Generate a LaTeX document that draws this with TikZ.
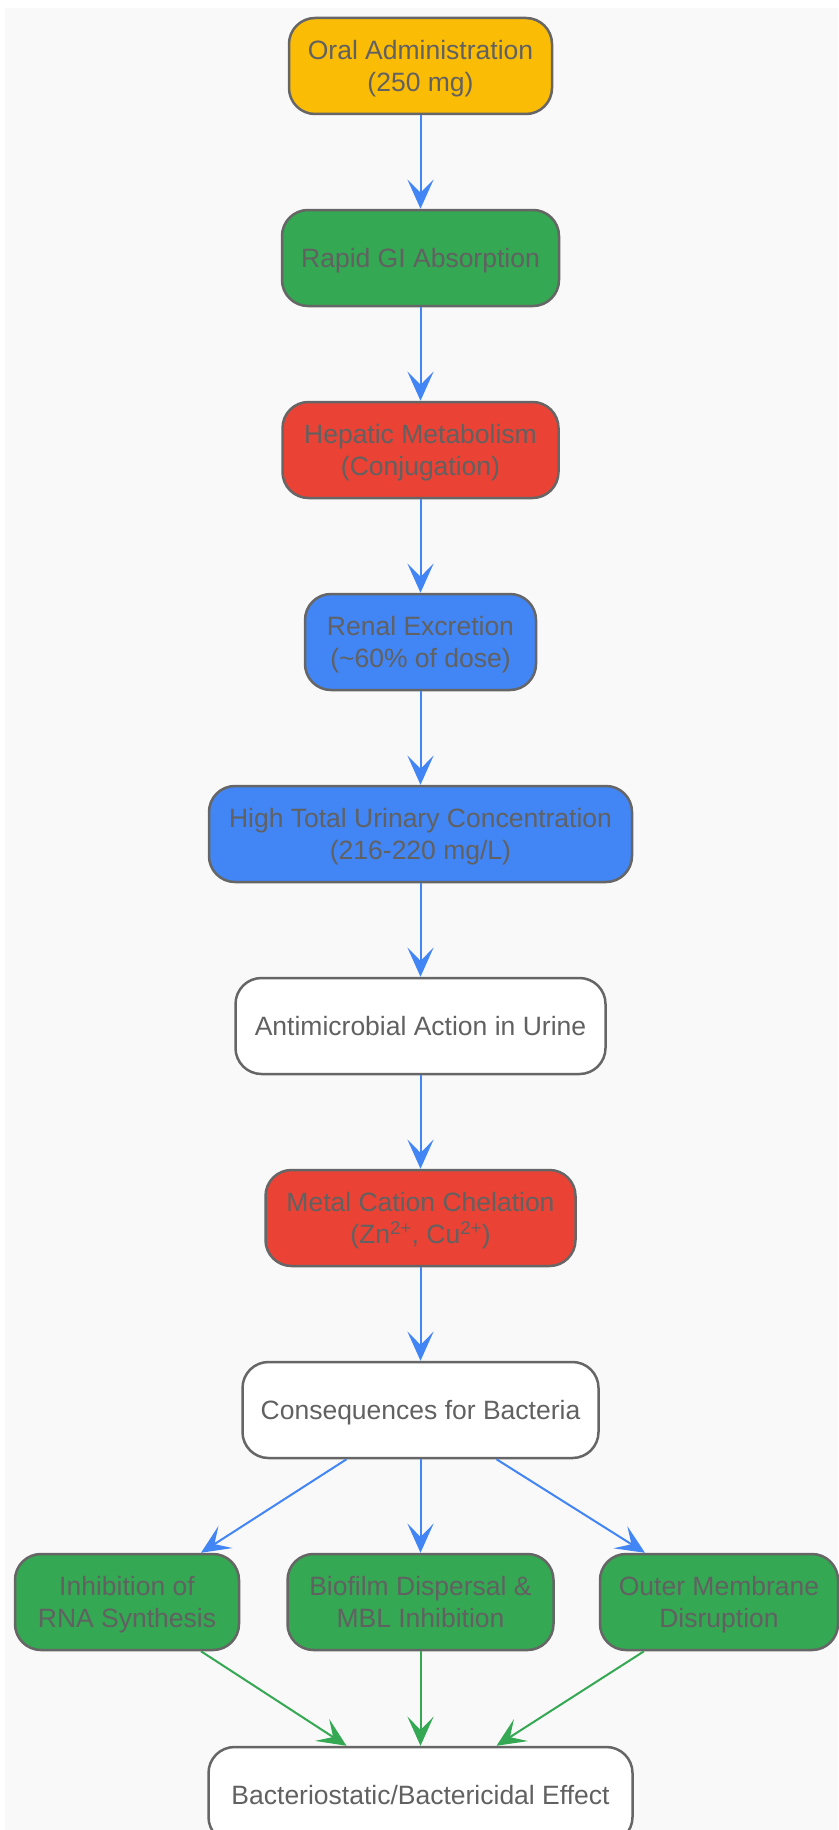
\documentclass[tikz,border=0pt]{standalone}
\usepackage{fontspec}
\setmainfont{Liberation Sans}
\usetikzlibrary{arrows.meta}
\definecolor{bggray}{HTML}{F9F9F9}
\definecolor{boxline}{HTML}{666666}
\definecolor{labelgray}{HTML}{616161}
\definecolor{gyellow}{HTML}{FBBC05}
\definecolor{ggreen}{HTML}{34A853}
\definecolor{gred}{HTML}{EA4335}
\definecolor{gblue}{HTML}{4285F4}
\tikzstyle{box} = [rectangle, rounded corners=26pt, minimum height=96pt, inner xsep=0pt, text depth=0pt, align=center, draw=boxline, line width=2.5pt, text=labelgray, font=\fontsize{26.5pt}{31.5pt}\selectfont]
\tikzstyle{arrow} = [line width=2pt, draw=gblue, -{Stealth[length=29pt, width=26pt, inset=13pt]}]
\tikzstyle{garrow} = [arrow, draw=ggreen]

\begin{document}
\begin{tikzpicture}[x=1pt, y=1pt]
        \useasboundingbox (0,0) rectangle (838,-1830);
        \fill [bggray] (5,-8) rectangle (838,-1830);
        \node [box, fill=gyellow, minimum width=263pt] at (420.5,-66) (oral) {Oral Administration\\(250 mg)};
        \node [box, fill=ggreen, minimum width=277pt] at (420.5,-258) (absorb) {Rapid GI Absorption};
        \node [box, fill=gred, minimum width=276pt] at (420.5,-450) (hepatic) {Hepatic Metabolism\\(Conjugation)};
        \node [box, fill=gblue, minimum width=231pt] at (420.5,-642) (renal) {Renal Excretion\\(\textasciitilde60\% of dose)};
        \node [box, fill=gblue, minimum width=423pt] at (420.5,-834) (urine) {High Total Urinary Concentration\\(216-220 mg/L)};
        \node [box, fill=white, minimum width=370pt] at (420.5,-1026) (action) {Antimicrobial Action in Urine};
        \node [box, fill=gred, minimum width=310pt] at (420.5,-1218) (chelate) {Metal Cation Chelation\\(Zn\textsuperscript{2+}, Cu\textsuperscript{2+})};
        \node [box, fill=white, minimum width=356pt] at (420.5,-1410) (cons) {Consequences for Bacteria};
        \node [box, fill=ggreen, minimum width=224pt] at (127,-1602) (rna) {Inhibition of\\RNA Synthesis};
        \node [box, fill=ggreen, minimum width=266pt] at (420.5,-1602) (biofilm) {Biofilm Dispersal \&\\MBL Inhibition};
        \node [box, fill=ggreen, minimum width=238pt] at (719,-1602) (outer) {Outer Membrane\\Disruption};
        \node [box, fill=white, minimum width=424pt] at (420.5,-1795) (effect) {Bacteriostatic/Bactericidal Effect};
        \draw [arrow] (oral) -- (absorb);
        \draw [arrow] (absorb) -- (hepatic);
        \draw [arrow] (hepatic) -- (renal);
        \draw [arrow] (renal) -- (urine);
        \draw [arrow] (urine) -- (action);
        \draw [arrow] (action) -- (chelate);
        \draw [arrow] (chelate) -- (cons);
        \draw [arrow] ([xshift=-74pt]cons.south) -- ([xshift=74pt]rna.north);
        \draw [arrow] (cons) -- (biofilm);
        \draw [arrow] ([xshift=76pt]cons.south) -- ([xshift=-74pt]outer.north);
        \draw [garrow] ([xshift=74pt]rna.south) -- ([xshift=-74pt]effect.north);
        \draw [garrow] (biofilm) -- (effect);
        \draw [garrow] ([xshift=-75pt]outer.south) -- ([xshift=76pt]effect.north);
        \end{tikzpicture}
\end{document}
